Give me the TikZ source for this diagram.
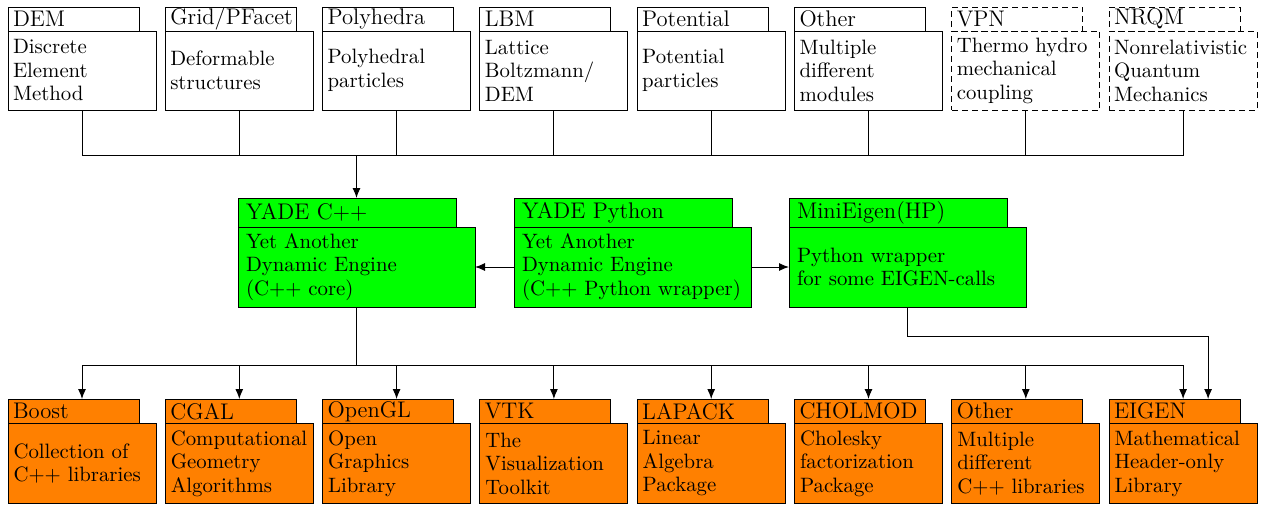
\documentclass[tikz,border=0pt]{standalone}
\usetikzlibrary{arrows.meta,calc}
\definecolor{boxgreen}{RGB}{0,255,0}
\definecolor{boxorange}{RGB}{255,128,0}
\newcommand{\twopart}[6]{%
  \node[#4body,#5] (#1) at (#2,#3) {#6};
}
\newcommand{\tabpart}[4]{%
  \node[#2tab,#3] (t#1) at (#1.north west) {#4};
}
\tikzset{
  box/.style={draw, line width=0.5pt, outer sep=0pt, inner ysep=0pt, align=left},
  bodyfont/.style={font=\fontsize{10.4}{11.75}\selectfont},
  tabfont/.style={font=\fontsize{11.3}{13}\selectfont},
  topbody/.style={box, bodyfont, anchor=north west, inner xsep=2.5pt, minimum width=74pt, minimum height=39.5pt, text width=69pt},
  toptab/.style={box, tabfont, anchor=south west, inner xsep=2.5pt, minimum width=65.5pt, minimum height=12pt, text width=60.5pt},
  midbody/.style={box, bodyfont, fill=boxgreen, anchor=north west, inner xsep=4pt, minimum width=118.5pt, minimum height=40pt, text width=110.5pt},
  midtab/.style={box, tabfont, fill=boxgreen, anchor=south west, inner xsep=4pt, minimum width=109pt, minimum height=14.5pt, text width=101pt},
  botbody/.style={box, bodyfont, fill=boxorange, anchor=north west, inner xsep=2.75pt, minimum width=74pt, minimum height=40pt, text width=68.5pt},
  bottab/.style={box, tabfont, fill=boxorange, anchor=south west, inner xsep=2.5pt, minimum width=65.5pt, minimum height=12.25pt, text width=60.5pt},
  plain/.style={},
  future/.style={dashed, dash pattern=on 3pt off 2pt},
  conn/.style={line width=0.5pt},
  arr/.style={line width=0.5pt, -{Latex[length=5pt,width=4pt]}},
}
\begin{document}
\begin{tikzpicture}[x=0.5pt,y=-0.5pt]
\useasboundingbox (0,0) rectangle (1264,505);
% top row
\twopart{dem}{8}{31}{top}{plain}{Discrete\\Element\\Method}
\tabpart{dem}{top}{plain}{DEM}
\twopart{grid}{165.3}{31}{top}{plain}{Deformable\\structures}
\tabpart{grid}{top}{plain}{Grid/PFacet}
\twopart{poly}{322.6}{31}{top}{plain}{Polyhedral\\particles}
\tabpart{poly}{top}{plain}{Polyhedra}
\twopart{lbm}{479.9}{31}{top}{plain}{Lattice\\Boltzmann/\\DEM}
\tabpart{lbm}{top}{plain}{LBM}
\twopart{pot}{637.2}{31}{top}{plain}{Potential\\particles}
\tabpart{pot}{top}{plain}{Potential}
\twopart{oth}{794.5}{31}{top}{plain}{Multiple\\different\\modules}
\tabpart{oth}{top}{plain}{Other}
\twopart{vpn}{951.8}{31}{top}{future}{Thermo hydro\\mechanical\\coupling}
\tabpart{vpn}{top}{future}{VPN}
\twopart{nrqm}{1109.1}{31}{top}{future}{Nonrelativistic\\Quantum\\Mechanics}
\tabpart{nrqm}{top}{future}{NRQM}
% middle row
\twopart{cpp}{238}{227}{mid}{plain}{Yet Another\\Dynamic Engine\\(C++ core)}
\tabpart{cpp}{mid}{plain}{YADE C++}
\twopart{py}{514}{227}{mid}{plain}{Yet Another\\Dynamic Engine\\(C++ Python wrapper)}
\tabpart{py}{mid}{plain}{YADE Python}
\twopart{mini}{789}{227}{mid}{plain}{Python wrapper\\for some EIGEN-calls}
\tabpart{mini}{mid}{plain}{MiniEigen(HP)}
% bottom row
\twopart{boost}{8}{423.5}{bot}{plain}{Collection of\\C++ libraries}
\tabpart{boost}{bot}{plain}{Boost}
\twopart{cgal}{165.3}{423.5}{bot}{plain}{Computational\\Geometry\\Algorithms}
\tabpart{cgal}{bot}{plain}{CGAL}
\twopart{ogl}{322.6}{423.5}{bot}{plain}{Open\\Graphics\\Library}
\tabpart{ogl}{bot}{plain}{OpenGL}
\twopart{vtk}{479.9}{423.5}{bot}{plain}{The\\Visualization\\Toolkit}
\tabpart{vtk}{bot}{plain}{VTK}
\twopart{lapack}{637.2}{423.5}{bot}{plain}{Linear\\Algebra\\Package}
\tabpart{lapack}{bot}{plain}{LAPACK}
\twopart{chol}{794.5}{423.5}{bot}{plain}{Cholesky\\factorization\\Package}
\tabpart{chol}{bot}{plain}{CHOLMOD}
\twopart{othlib}{951.8}{423.5}{bot}{plain}{Multiple\\different\\C++ libraries}
\tabpart{othlib}{bot}{plain}{Other}
\twopart{eigen}{1109.1}{423.5}{bot}{plain}{Mathematical\\Header-only\\Library}
\tabpart{eigen}{bot}{plain}{EIGEN}
% connectors
\coordinate (tbus) at (356.5,155);
\coordinate (bbus) at (356.5,365);
\foreach \n in {dem,grid,poly,lbm,pot,oth,vpn,nrqm}
  \draw[conn] (\n.south) |- (tbus);
\draw[arr] (tbus) -- (tbus |- tcpp.north);
\draw[arr] (py.west) -- (cpp.east);
\draw[arr] (py.east) -- (mini.west);
\draw[conn] (cpp.south) -- (bbus);
\foreach \n in {boost,cgal,ogl,vtk,lapack,chol,othlib,eigen}
  \draw[arr] (bbus) -| (\n.south |- t\n.north);
\draw[arr] (mini.south) -- ++(0,29) -| ($(eigen.south |- teigen.north)+(25,0)$);
\end{tikzpicture}
\end{document}
